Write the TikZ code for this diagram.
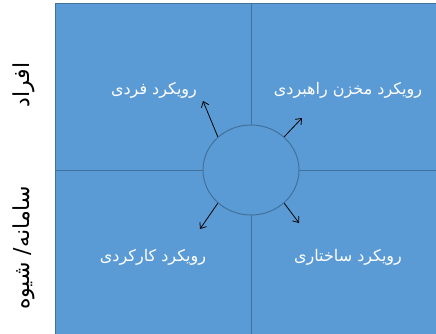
\documentclass[tikz,border=0pt]{standalone}
\usepackage{fontspec}
\newfontfamily\arabicfont[Script=Arabic]{DejaVu Sans}
\TeXXeTstate=1
\usetikzlibrary{shapes.geometric, arrows.meta}
\definecolor{quadblue}{HTML}{5B9BD5}
\definecolor{edgeblue}{HTML}{41719C}
\tikzset{
	quadlabel/.style={text=white, font=\arabicfont\fontsize{16}{19}\selectfont},
	sidelabel/.style={text=black, rotate=90, font=\arabicfont\fontsize{22}{26}\selectfont},
}
\begin{document}
\begin{tikzpicture}[x=1pt, y=-1pt, line join=round, >={Straight Barb[length=5pt,width=8pt]}, line width=1pt]
			\clip (0,0) rectangle (436,334);
			\fill[quadblue, draw=edgeblue] (55,4) rectangle (440,340);
			\draw[edgeblue] (251,4)--(251,340) (55,170)--(440,170);
			\node[ellipse, draw=edgeblue, fill=quadblue, minimum width=96pt, minimum height=90pt, inner sep=0pt] (hub) at (251,170) {};
			\coordinate (tl) at (203,101);
			\coordinate (tr) at (302,118);
			\coordinate (bl) at (200,229);
			\coordinate (br) at (299,223);
			\draw[->, line width=0.8pt] (hub.135)--(tl);
			\draw[->, line width=0.8pt] (hub.45)--(tr);
			\draw[->, line width=0.8pt] (hub.225)--(bl);
			\draw[->, line width=0.8pt] (hub.315)--(br);
			\node[quadlabel] (fardi) at (154,90) {\beginR رویکرد فردی\endR};
			\node[quadlabel] (rahbordi) at (348,90) {\beginR رویکرد مخزن راهبردی\endR};
			\node[quadlabel] (karkardi) at (153,257) {\beginR رویکرد کارکردی\endR};
			\node[quadlabel] (sakhtari) at (348,257) {\beginR رویکرد ساختاری\endR};
			\node[sidelabel] (afrad) at (24,85) {\beginR افراد\endR};
			\node[sidelabel] (samaneh) at (24,248) {\beginR سامانه/ شیوه\endR};
	\end{tikzpicture}
\end{document}
